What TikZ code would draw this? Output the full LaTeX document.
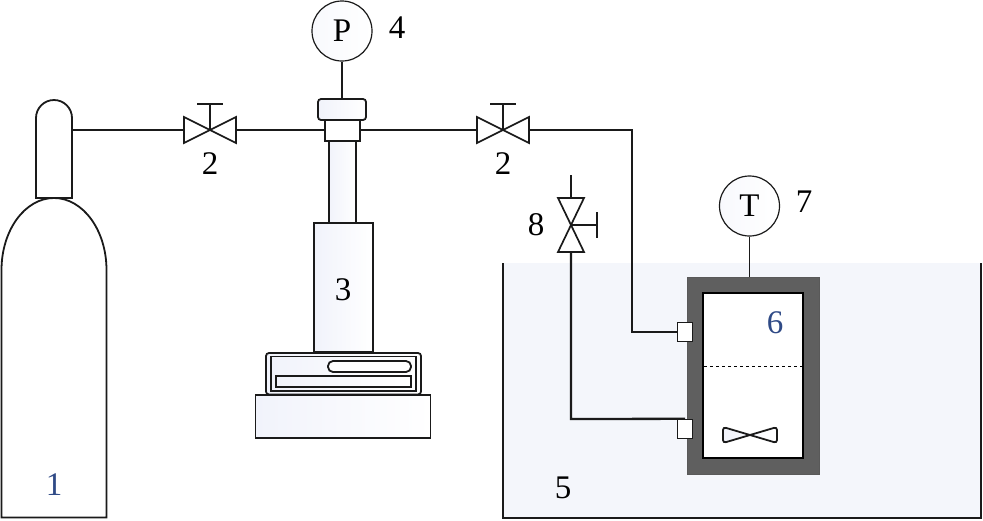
\documentclass[tikz,border=0pt]{standalone}
\usepackage{fontspec}
\setmainfont{Liberation Serif}
\usepackage{xcolor}
\usepackage{tikz}
\definecolor{bathblue}{HTML}{F4F6FB}
\definecolor{partfill}{HTML}{F1F3FB}
\definecolor{wallgrey}{HTML}{5F5F5F}
\definecolor{tagblue}{HTML}{2F4A86}
\definecolor{linedark}{HTML}{1A1A1A}
\tikzset{x=1pt,y=-1pt,
    pipe/.style={draw=linedark,line width=2.3pt},
    thin pipe/.style={draw=linedark,line width=1.5pt},
    part/.style={draw=linedark,line width=1.8pt,left color=partfill,right color=white},
    block/.style={part,minimum width=#1,inner sep=0pt},
    gauge/.style={draw=linedark,circle,line width=1.2pt,minimum size=60pt,inner sep=0pt,left color=partfill!50,right color=white,font=\fontsize{33}{33}\selectfont},
    tag/.style={inner sep=0pt,font=\fontsize{33}{33}\selectfont},
    port/.style={draw=linedark,line width=1.4pt,fill=white,minimum width=15pt,minimum height=19pt,inner sep=0pt},
    pics/valve/.style={code={
        \draw[draw=linedark,line width=1.7pt,fill=white] (-26,-13) -- (26,13) -- (26,-13) -- (-26,13) -- cycle;
        \draw[draw=linedark,line width=1.7pt] (0,0) -- (0,-26) (-13,-26) -- (13,-26);
        \coordinate (-a) at (-26,0);
        \coordinate (-b) at (26,0);
    }},
    pics/ventvalve/.style={code={
        \draw[draw=linedark,line width=1.7pt,fill=white] (-13,-27) -- (13,27) -- (-13,27) -- (13,-27) -- cycle;
        \draw[draw=linedark,line width=1.7pt] (0,0) -- (26,0) (26,-13) -- (26,13);
        \coordinate (-a) at (0,-27);
        \coordinate (-b) at (0,27);
    }}}

\begin{document}
\begin{tikzpicture}
    \useasboundingbox (0,0) rectangle (983,520);
    % bath
    \fill[bathblue] (503,263) rectangle (981,518);
    \draw[draw=linedark,line width=2pt] (503,263) -- (503,518) -- (981,518) -- (981,263);
    % bottle
    \draw[part,fill=white,left color=white] (36,198) -- (36,118) arc[start angle=180,end angle=360,radius=18] -- (72,198) -- cycle;
    \draw[part,fill=white,left color=white] (1.5,517.5) -- (1.5,270) arc[start angle=180,end angle=360,x radius=52.5,y radius=72] -- (106.5,517.5) -- cycle;
    % balance and column
    \node[block=175pt,minimum height=43pt] (base) at (343,416.5) {};
    \draw[part,rounded corners=3pt] (266,394.5) rectangle (421,353);
    \draw[part] (271,391) rectangle (416,356.5);
    \draw[part,left color=white,rounded corners=5pt] (328,361) rectangle (411,372);
    \draw[part] (276,376) rectangle (411,387);
    \node[block=59pt,minimum height=129pt] (pump) at (343.5,287.5) {};
    \node[block=27pt,minimum height=82pt] (rod) at (342.5,182) {};
    \node[block=35pt,minimum height=21pt,left color=white] (neck) at (342.5,130.5) {};
    \node[block=48pt,minimum height=21pt,rounded corners=3pt] (cap) at (342,109.5) {};
    % gauges
    \node[gauge] (P) at (342,31) {P};
    \node[gauge] (T) at (749.5,206) {T};
    \draw[thin pipe] (P) -- (cap);
    % vessel
    \node[draw=black!65,line width=.8pt,fill=wallgrey,minimum width=132pt,minimum height=197pt,inner sep=0pt] (wall) at (753,375.5) {};
    \node[draw=black,line width=1.4pt,fill=white,minimum width=100pt,minimum height=165pt,inner sep=0pt] (cell) at (753,375.5) {};
    \draw[line width=1pt,dashed] (704,366) -- (802,366);
    \draw[thin pipe] (T) -- (T |- wall.north);
    \draw[part,rounded corners=3pt] (723,427) -- (777,443) -- (777,427) -- (723,443) -- cycle;
    \node[port] (in) at (685,332) {};
    \node[port] (out) at (685,429) {};
    % valves
    \pic (v1) at (210,130) {valve};
    \pic (v2) at (503,130) {valve};
    \pic (v3) at (571,225) {ventvalve};
    % pipes
    \coordinate (bottleout) at (72,130);
    \coordinate (ventend) at (571,175);
    \coordinate (ventbend) at (571,419);
    \coordinate (inbend) at (632,130);
    \draw[pipe] (bottleout) -- (v1-a);
    \draw[pipe] (v1-b) -- (v1-b -| neck.west);
    \draw[pipe] (v2-a -| neck.east) -- (v2-a);
    \draw[pipe] (v2-b) -- (inbend) |- (in);
    \draw[pipe] (ventend) -- (v3-a);
    \draw[pipe] (v3-b) -- (ventbend) -- (out.north);
    % tags
    \node[tag,text=tagblue] (t1) at (54,485) {1};
    \node[tag] (t2a) at (210,164) {2};
    \node[tag] (t2b) at (503,164) {2};
    \node[tag] (t3) at (343,290) {3};
    \node[tag] (t4) at (397,28) {4};
    \node[tag] (t5) at (563,488) {5};
    \node[tag,text=tagblue] (t6) at (775,323) {6};
    \node[tag] (t7) at (804,202) {7};
    \node[tag] (t8) at (536,225) {8};
\end{tikzpicture}
\end{document}
